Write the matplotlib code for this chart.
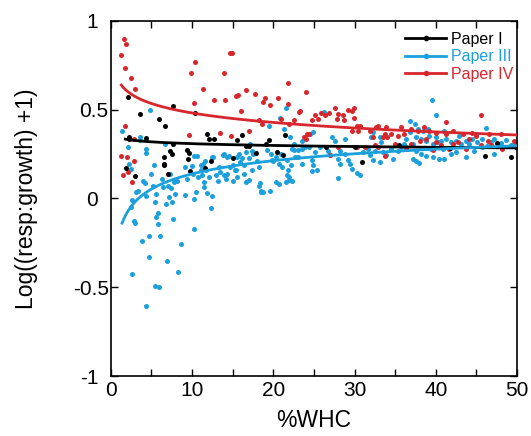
import matplotlib
matplotlib.use("Agg")
import matplotlib.pyplot as plt
import matplotlib.transforms as mtransforms
from matplotlib.ticker import MultipleLocator
import numpy as np
from matplotlib.lines import Line2D

plt.rcParams['font.family'] = ['Liberation Sans', 'DejaVu Sans']

# ---- Paper I (black) ----
p1_x = [2.16, 2.24, 1.83, 2.99, 3.65, 4.4, 5.98, 6.73, 6.6, 6.56, 7.1, 7.35, 7.5, 7.64, 7.72,
        9.5, 9.63, 9.72, 10.42, 11.6, 11.8, 12.1, 12.75, 12.3, 15.5, 14.99, 16.2, 17.0, 17.86,
        19.06, 19.5, 20.5, 21.5, 21.26, 30.9, 46.1, 49.25, 47.5, 49.9, 30.0, 26.5, 35.5, 41.7,
        16.6, 2.19, 9.4, 6.6]
p1_y = [0.571, 0.332, 0.172, 0.127, 0.473, 0.341, 0.445, 0.407, 0.232, 0.187, 0.136, 0.266, 0.251, 0.518, 0.308,
        0.221, 0.255, 0.155, 0.483, 0.17, 0.36, 0.335, 0.334, 0.209, 0.33, 0.225, 0.357, 0.293, 0.255,
        0.308, 0.326, 0.259, 0.355, 0.246, 0.206, 0.236, 0.234, 0.313, 0.289, 0.29, 0.29, 0.30, 0.285,
        0.296, 0.343, 0.27, 0.196]

# ---- Paper III (blue) ----
p3_x = [1.37, 2.08, 2.24, 2.45, 2.57, 2.45, 2.66, 2.9, 2.99, 3.16, 3.4, 3.57, 3.57, 4.03, 4.24,
        3.9, 4.4, 4.4, 4.4, 4.3, 4.7, 4.76, 4.85, 4.98, 5.15, 5.36, 5.4, 5.5, 5.56, 5.6,
        5.77, 5.86, 5.98, 6.06, 6.3, 6.4, 6.7, 6.8, 6.98, 7.06, 7.2, 7.3, 7.47, 7.6, 7.72,
        7.8, 7.9, 8.2, 8.3, 8.7, 9.1, 9.2, 9.4, 9.97, 10.1, 10.2, 10.2, 10.3, 10.5, 10.67,
        10.76, 11.05, 11.2, 11.3, 11.45, 11.5, 11.63, 11.9, 12.1, 12.4, 12.5, 12.6, 12.96, 13.25, 13.5,
        13.87, 14.16, 14.37, 14.5, 14.7, 15.1, 15.3, 15.5, 15.85, 16.15, 16.36, 16.7, 17.0, 17.2, 17.4,
        17.5, 18.0, 18.2, 18.44, 18.5, 18.77, 19.2, 19.5, 19.6, 19.77, 20.0, 20.4, 20.7, 20.9, 21.1,
        21.3, 21.56, 21.6, 21.8, 21.9, 22.1, 22.2, 22.3, 22.6, 23.0,
        20.88, 23.9, 23.1, 22.3, 22.5, 17.4, 16.6, 15.8, 13.95, 14.36, 12.5, 11.1, 11.7, 13.34, 15.0,
        15.4, 16.4, 18.2, 19.86, 20.7, 21.7, 22.7, 23.5, 13.95, 15.6, 17.0, 18.4, 20.3, 21.7, 21.9,
        26.3, 24.95, 24.55, 23.53, 23.53, 24.34, 25.16, 24.75, 24.95, 24.75, 25.36, 26.79, 27.0, 27.19, 27.6,
        28.0, 28.21, 28.0, 28.82, 29.23, 29.43, 29.64, 28.21, 28.82, 30.25, 30.66, 31.06, 31.67, 31.88, 32.28,
        32.49, 33.1, 33.5, 33.9, 34.5, 34.73, 35.3, 35.7, 36.15, 32.08, 32.28, 33.1, 33.3, 25.77,
        39.54, 40.03, 36.77, 37.39, 37.79, 38.4, 39.0, 41.05, 36.77, 36.37, 37.18, 37.59, 38.2, 38.81, 39.22,
        39.63, 40.03, 40.24, 40.64, 41.26, 41.87, 42.48, 43.09, 43.7, 44.1, 44.5, 45.1, 45.7, 46.14, 46.35,
        46.75, 47.16, 37.59, 38.2, 38.81, 37.18, 37.59, 37.92, 39.63, 40.44, 41.05, 41.87, 42.48, 43.7, 44.72,
        45.7, 47.16, 36.37, 39.42, 40.85, 48.0, 48.6, 49.3, 44.9, 42.9]
p3_y = [0.379, 0.289, 0.195, 0.167, -0.012, -0.05, -0.426, -0.125, -0.14, 0.035, 0.044, 0.327, 0.345, 0.10, 0.086,
        -0.24, 0.279, 0.255, -0.605, 0.016, -0.332, -0.211, 0.496, 0.138, 0.072, 0.185, -0.492, -0.018, -0.103, 0.025,
        -0.144, -0.08, -0.501, -0.214, 0.11, 0.063, 0.304, -0.031, -0.353, 0.07, 0.007, 0.138, 0.057, -0.018, -0.114,
        0.091, 0.025, 0.099, -0.413, -0.257, 0.02, 0.176, 0.11, 0.18, 0.138, -0.17, -0.001, 0.236, 0.037, 0.236,
        0.118, 0.161, 0.129, 0.191, 0.091, 0.063, 0.213, 0.029, 0.12, -0.055, 0.016, 0.232, 0.129, 0.10, 0.148,
        0.245, 0.11, 0.138, 0.236, 0.176, 0.10, 0.157, 0.232, 0.206, 0.229, 0.138, 0.091, 0.227, 0.308, 0.157,
        0.251, 0.213, 0.072, 0.044, 0.035, 0.035, 0.27, 0.405, 0.044, 0.251, 0.213, 0.232, 0.082, 0.251, 0.176,
        0.392, 0.51, 0.091, 0.157, 0.12, 0.345, 0.185, 0.10, 0.27, 0.232,
        0.454, 0.288, 0.27, 0.278, 0.306, 0.265, 0.26, 0.25, 0.25, 0.232, 0.232, 0.186, 0.158, 0.177, 0.186,
        0.158, 0.186, 0.177, 0.214, 0.196, 0.214, 0.232, 0.196, 0.131, 0.122, 0.103, 0.085, 0.094, 0.131, 0.103,
        0.487, 0.371, 0.362, 0.325, 0.278, 0.288, 0.26, 0.214, 0.186, 0.155, 0.158, 0.269, 0.242, 0.343, 0.325,
        0.223, 0.195, 0.112, 0.251, 0.214, 0.195, 0.168, 0.269, 0.334, 0.14, 0.131, 0.26, 0.278, 0.242, 0.214,
        0.269, 0.205, 0.26, 0.242, 0.278, 0.223, 0.269, 0.288, 0.306, 0.343, 0.371, 0.343, 0.315, 0.288,
        0.555, 0.467, 0.435, 0.417, 0.389, 0.38, 0.393, 0.38, 0.371, 0.334, 0.306, 0.343, 0.334, 0.324, 0.352,
        0.306, 0.343, 0.315, 0.324, 0.334, 0.315, 0.324, 0.306, 0.324, 0.306, 0.334, 0.315, 0.334, 0.398, 0.297,
        0.315, 0.334, 0.269, 0.251, 0.241, 0.223, 0.208, 0.201, 0.232, 0.219, 0.219, 0.251, 0.26, 0.232, 0.269,
        0.287, 0.251, 0.287, 0.278, 0.278, 0.31, 0.33, 0.3, 0.36, 0.35]

# ---- Paper IV (red) ----
p4_x = [1.25, 1.66, 1.9, 1.74, 2.45, 2.95, 1.25, 1.5, 1.74, 2.0, 2.16, 2.57, 2.87, 2.82,
        9.84, 10.34, 10.2, 11.4, 12.75, 13.95, 14.1, 14.7, 14.95, 15.4, 15.7, 16.0, 16.6, 17.7, 18.8,
        19.6, 19.0, 20.6, 21.8, 21.8, 24.0, 20.9, 22.6, 22.0, 23.2, 18.2, 18.6, 17.0, 14.8, 13.45, 9.6,
        23.3, 24.75, 25.08, 25.56, 25.89, 26.38, 26.87, 27.6, 27.8, 28.0, 28.62, 28.74, 29.23, 29.64, 29.96,
        29.96, 30.25, 30.45, 30.66, 29.64, 31.88, 32.28, 32.69, 32.9, 33.5, 33.8, 34.04, 33.9, 34.5, 35.3,
        35.7, 36.15, 23.73, 24.14, 24.42, 24.02, 28.0, 30.25, 31.27, 32.5, 32.9, 33.8, 34.93,
        45.61, 41.26, 36.98, 37.79, 38.61, 39.22, 40.03, 41.26, 42.07, 43.29, 44.5, 44.92, 46.55, 47.98,
        36.98, 38.0, 38.81, 40.03, 40.64, 41.66, 42.68, 43.7, 44.1, 45.53, 46.47, 46.75, 48.18, 49.6,
        36.37, 39.63, 26.95, 42.1, 49.8]
p4_y = [0.806, 0.897, 0.87, 0.735, 0.678, 0.614, 0.238, 0.129, 0.405, 0.232, 0.148, 0.091, 0.336, 0.213,
        0.706, 0.765, 0.535, 0.618, 0.552, 0.703, 0.552, 0.817, 0.817, 0.577, 0.58, 0.494, 0.612, 0.588, 0.543,
        0.524, 0.565, 0.567, 0.652, 0.53, 0.596, 0.449, 0.44, 0.42, 0.488, 0.443, 0.42, 0.377, 0.349, 0.368, 0.358,
        0.49, 0.44, 0.47, 0.445, 0.48, 0.47, 0.48, 0.51, 0.445, 0.475, 0.47, 0.44, 0.50, 0.49, 0.51,
        0.455, 0.41, 0.38, 0.41, 0.38, 0.38, 0.345, 0.40, 0.41, 0.345, 0.36, 0.345, 0.40, 0.365, 0.35,
        0.40, 0.36, 0.345, 0.365, 0.365, 0.335, 0.29, 0.29, 0.29, 0.30, 0.29, 0.24, 0.305,
        0.47, 0.43, 0.39, 0.38, 0.40, 0.38, 0.37, 0.36, 0.38, 0.36, 0.37, 0.35, 0.36, 0.36,
        0.305, 0.325, 0.335, 0.32, 0.30, 0.28, 0.315, 0.28, 0.335, 0.30, 0.325, 0.30, 0.28, 0.325,
        0.28, 0.27, 0.242, 0.307, 0.317]

# ---- fitted curves (coefficients) ----
fit_p1 = dict(a=0.342, b=-0.0148, x0=1.8)            # y = a + b ln x
fit_p3 = dict(a=0.713, b=0.912, c=0.2, x0=1.4)        # y = a - b x^-c
fit_p4 = dict(a=0.658, b=-0.077, x0=1.3)              # y = a + b ln x

labels = ['Paper I', 'Paper III', 'Paper IV']
colors = ['#000000', '#1ba0dc', '#d7262c']
x_ticks = [0, 10, 20, 30, 40, 50]
y_ticks = [-1, -0.5, 0, 0.5, 1]
y_ticklabels = ['-1', '-0.5', '0', '0.5', '1']

fig = plt.figure(figsize=(5.31, 4.36), dpi=100)
ax = fig.add_axes([0.2085, 0.1376, 0.7652, 0.8149])

ms = 13
ax.scatter(p3_x, p3_y, s=ms, color=colors[1], linewidths=0, zorder=2)
ax.scatter(p4_x, p4_y, s=ms, color=colors[2], linewidths=0, zorder=2)
ax.scatter(p1_x, p1_y, s=ms, color=colors[0], linewidths=0, zorder=2)

lw = 2.0
xx = np.linspace(fit_p1['x0'], 50, 200)
ax.plot(xx, fit_p1['a'] + fit_p1['b'] * np.log(xx), color=colors[0], lw=lw, zorder=3)
xx = np.linspace(fit_p3['x0'], 50, 200)
ax.plot(xx, fit_p3['a'] - fit_p3['b'] * xx ** (-fit_p3['c']), color=colors[1], lw=lw, zorder=3)
xx = np.linspace(fit_p4['x0'], 50, 200)
ax.plot(xx, fit_p4['a'] + fit_p4['b'] * np.log(xx), color=colors[2], lw=lw, zorder=3)

ax.set_xlim(0, 50)
ax.set_ylim(-1, 1)
ax.set_xticks(x_ticks)
ax.xaxis.set_minor_locator(MultipleLocator(5))
ax.set_yticks(y_ticks)
ax.set_yticklabels(y_ticklabels)
ax.tick_params(which='both', direction='in', length=5, width=1.0, top=True, right=True, labelsize=15)
ax.tick_params(axis='x', pad=3.7)
ax.tick_params(axis='y', pad=1.5)
for s in ax.spines.values():
    s.set_linewidth(1.2)

# integer y labels sit further from the axis than the decimal ones in the reference
shift = mtransforms.ScaledTranslation(-7.5 / 72, 0, fig.dpi_scale_trans)
for lab in ax.get_yticklabels():
    if '.' not in lab.get_text():
        lab.set_transform(lab.get_transform() + shift)

ax.set_xlabel('%WHC', fontsize=16.5)
ax.xaxis.set_label_coords(0.5, -0.094)
ax.set_ylabel('Log((resp:growth) +1)', fontsize=16.5)
ax.yaxis.set_label_coords(-0.18, 0.5)

handles = [Line2D([0], [0], color=c, lw=2, marker='o', markersize=3) for c in colors]
leg = ax.legend(handles, labels, loc='upper right', bbox_to_anchor=(0.99, 0.969), frameon=False,
                fontsize=11.5, handlelength=2.55, handletextpad=0.3, labelspacing=0.15, borderpad=0,
                borderaxespad=0)
for t, c in zip(leg.get_texts(), colors):
    t.set_color(c)

fig.savefig('out.png', dpi=100)
